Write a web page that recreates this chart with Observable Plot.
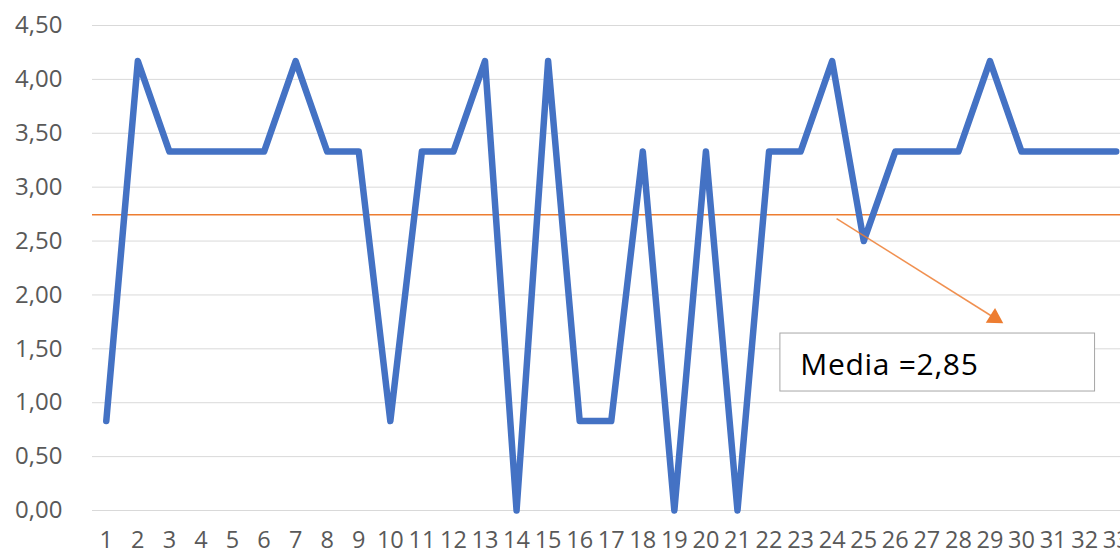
<!DOCTYPE html>
<html>
<head>
<meta charset="utf-8">
<script src="https://cdn.jsdelivr.net/npm/d3@7"></script>
<script src="https://cdn.jsdelivr.net/npm/@observablehq/plot@0.6"></script>
<style>
  html, body { margin: 0; padding: 0; background: #fff; overflow: hidden; }
  #chart svg { overflow: hidden; display: block; }
</style>
</head>
<body>
<div id="chart"></div>
<script>
// Categories (x) and series values (y)
const days = [1,2,3,4,5,6,7,8,9,10,11,12,13,14,15,16,17,18,19,20,21,22,23,24,25,26,27,28,29,30,31,32,33];
const values = [0.83,4.17,3.33,3.33,3.33,3.33,4.17,3.33,3.33,0.83,3.33,3.33,4.17,0.00,4.17,0.83,0.83,3.33,0.00,3.33,0.00,3.33,3.33,4.17,2.50,3.33,3.33,3.33,4.17,3.33,3.33,3.33,3.33];
const yTicks = [0,0.5,1,1.5,2,2.5,3,3.5,4,4.5];
const meanLine = 2.745;           // orange reference line as drawn
const meanLabel = "Media =2,85";  // text of the callout

// Callout annotation (in data units)
const arrowStart = {x: 24.14, y: 2.709};
const arrowHead = {x: 29.15, y: 1.786};
const boxArea = {x1: 22.36, x2: 32.33, y1: 1.104, y2: 1.642};
const labelPos = {x: 22.99, y: 1.35};

const data = days.map((d, i) => ({day: d, value: values[i]}));
const fmt = v => v.toFixed(2).replace(".", ",");
const font = "'Open Sans', sans-serif";

const chart = Plot.plot({
  width: 1120,
  height: 555,
  marginLeft: 92,
  marginRight: 0,
  marginTop: 25,
  marginBottom: 45,
  style: {fontFamily: font, background: "#fff"},
  x: {type: "linear", domain: [0.5, 33.5], range: [90, 90 + 33 * 31.56]},
  y: {domain: [0, 4.5]},
  marks: [
    Plot.gridY(yTicks, {stroke: "#d9d9d9", strokeOpacity: 1, strokeWidth: 1}),
    Plot.axisY(yTicks, {tickSize: 0, tickPadding: 30, tickFormat: fmt, fontSize: 24, fill: "#595959", label: null}),
    Plot.axisX(days, {tickSize: 0, tickPadding: 21, tickFormat: d => String(d), fontSize: 23.5, fill: "#595959", label: null}),
    Plot.ruleY([meanLine], {stroke: "#ED7D31", strokeWidth: 1.5}),
    Plot.line(data, {x: "day", y: "value", stroke: "#4472C4", strokeWidth: 6.5, strokeLinejoin: "round", strokeLinecap: "round"}),
    Plot.link([arrowStart], {x1: d => d.x, y1: d => d.y, x2: () => arrowHead.x, y2: () => arrowHead.y, stroke: "#ED7D31", strokeWidth: 1.5, strokeOpacity: 0.85}),
    Plot.dot([arrowHead], {x: "x", y: "y", symbol: "triangle", r: 6.5, fill: "#ED7D31", stroke: "none", rotate: 122}),
    Plot.rect([boxArea], {x1: "x1", x2: "x2", y1: "y1", y2: "y2", fill: "#fff", stroke: "#a6a6a6", strokeWidth: 1}),
    Plot.text([labelPos], {x: "x", y: "y", text: () => meanLabel, textAnchor: "start", lineAnchor: "middle", fontSize: 30, fill: "#000"})
  ]
});
d3.select(chart).selectAll("text").filter(function() { return this.textContent === meanLabel; }).attr("letter-spacing", "0.7px");
document.getElementById("chart").appendChild(chart);
</script>
</body>
</html>
